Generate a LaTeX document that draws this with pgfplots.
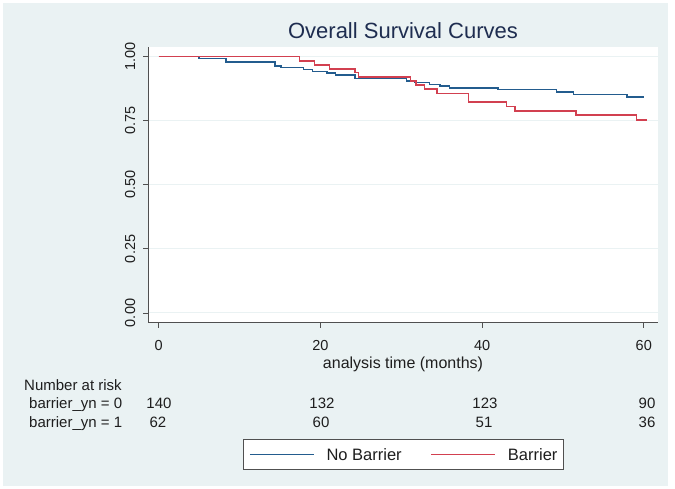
\documentclass[border=0pt]{standalone}
\usepackage{fontspec}
\setmainfont{Liberation Sans}
\usepackage{pgfplots}
\pgfplotsset{compat=1.18}
\definecolor{bgblue}{RGB}{234,242,243}
\definecolor{gridblue}{RGB}{234,242,243}
\definecolor{kmblue}{RGB}{35,92,142}
\definecolor{kmred}{RGB}{210,64,80}
\definecolor{axgray}{RGB}{80,80,80}
\definecolor{txt}{RGB}{30,30,30}
\definecolor{titlenavy}{RGB}{30,45,80}
\begin{document}
\begin{tikzpicture}[x=1pt,y=1pt]
\useasboundingbox (0,0) rectangle (675,489);
\fill[white] (0,0) rectangle (675,489);
\fill[bgblue] (3,3) rectangle (668,486);
\begin{axis}[
  at={(148pt,166.3pt)}, anchor=south west,
  width=510pt, height=276pt, scale only axis,
  axis background/.style={fill=white},
  xmin=-1.32, xmax=61.76, ymin=-0.038, ymax=1.039,
  axis x line*=bottom, axis y line*=left,
  axis line style={axgray, line width=0.8pt},
  xtick={0,20,40,60},
  ytick={0,0.25,0.5,0.75,1},
  yticklabels={0.00,0.25,0.50,0.75,1.00},
  tick align=outside, major tick length=5pt,
  tick style={axgray, line width=0.8pt},
  ymajorgrids, grid style={gridblue, line width=1pt},
  /pgf/number format/assume math mode=true,
  xticklabel style={font=\fontsize{14.5}{17}\selectfont, text=txt, inner sep=0pt, anchor=base, yshift=-23.3pt},
  yticklabel style={font=\fontsize{14.5}{17}\selectfont, text=txt, inner sep=0pt, rotate=90, anchor=south, yshift=7.5pt},
  legend style={at={(axis description cs:0.5008,-0.4765)}, anchor=center,
    legend columns=2, draw=axgray, fill=white, line width=0.8pt,
    font=\fontsize{16.5}{19}\selectfont, text=txt,
    nodes={inner sep=0pt, text height=12pt, text depth=0pt},
    inner xsep=6pt, inner ysep=9pt,
    /tikz/every odd column/.append style={column sep=12pt},
    /tikz/every even column/.append style={column sep=29pt}},
  legend image code/.code={\draw[#1, line width=1.2pt] (0pt,-0.5pt) -- (64pt,-0.5pt);},
]
\addplot[const plot, kmblue, line width=1.5pt] coordinates {
(0,1.000) (5.0,0.993) (8.3,0.979) (14.4,0.964) (15.1,0.957) (17.9,0.950)
(19.0,0.943) (20.8,0.936) (21.9,0.929) (24.3,0.914) (30.65,0.906) (31.7,0.899)
(33.5,0.891) (34.8,0.886) (36.0,0.878) (42.0,0.871) (49.2,0.863) (51.3,0.852)
(57.9,0.842) (60.0,0.842)};
\addlegendentry{No Barrier}
\addplot[const plot, kmred, line width=1.5pt] coordinates {
(0,1.000) (17.4,0.984) (19.3,0.968) (21.1,0.952) (24.3,0.938) (24.7,0.920)
(31.15,0.905) (31.8,0.890) (32.9,0.873) (34.4,0.856) (38.3,0.823) (43.0,0.805)
(44.1,0.789) (51.6,0.772) (59.1,0.752) (60.4,0.752)};
\addlegendentry{Barrier}
\end{axis}
\node[anchor=base, text=titlenavy, font=\fontsize{22}{26}\selectfont] at (403,450) {Overall Survival Curves};
\node[anchor=base, text=txt, font=\fontsize{16}{19}\selectfont] at (403,120) {analysis time (months)};
\begin{scope}[every node/.style={text=txt, font=\fontsize{15}{18}\selectfont, inner sep=0pt}]
\node[anchor=base west] at (24,98) {Number at risk};
\node[anchor=base west] at (29,80) {barrier\_yn = 0};
\node[anchor=base west] at (29,61) {barrier\_yn = 1};
\node[anchor=base] at (159,80) {140};
\node[anchor=base] at (322,80) {132};
\node[anchor=base] at (485,80) {123};
\node[anchor=base] at (647,80) {90};
\node[anchor=base] at (158,61) {62};
\node[anchor=base] at (321,61) {60};
\node[anchor=base] at (484,61) {51};
\node[anchor=base] at (647,61) {36};
\end{scope}
\end{tikzpicture}
\end{document}
